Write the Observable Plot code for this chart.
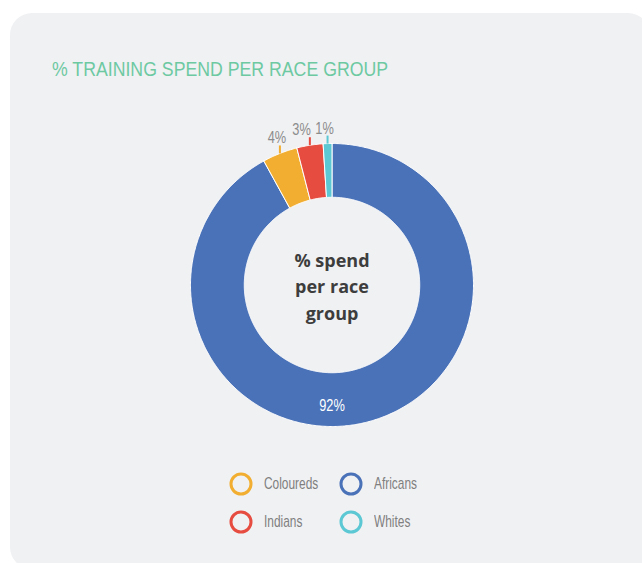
<!DOCTYPE html>
<html><head><meta charset="utf-8">
<script src="https://cdn.jsdelivr.net/npm/d3@7"></script>
<script src="https://cdn.jsdelivr.net/npm/@observablehq/plot@0.6"></script>
<style>
html,body{margin:0;padding:0;background:#fff;width:642px;height:563px;overflow:hidden;}
#card{position:absolute;left:10px;top:13px;width:640px;height:556px;background:#f0f1f3;border-radius:22px;}
#title{position:absolute;left:52px;top:57px;font-family:"Liberation Sans",sans-serif;font-size:20px;color:#6dc9a2;white-space:nowrap;line-height:24px;transform:scaleX(0.885);transform-origin:0 0;}
#chart{position:absolute;left:0;top:110px;}
#legend{position:absolute;left:229px;top:472px;display:grid;grid-template-columns:110px 110px;row-gap:14px;font-family:"Liberation Sans",sans-serif;font-size:17px;color:#7f7f7f;}
.item{display:flex;align-items:center;height:24px;}
.item svg{margin-right:11px;flex:none;}
.item span{display:inline-block;transform:scaleX(0.70);transform-origin:0 50%;white-space:nowrap;}
</style></head>
<body>
<div id="card"></div>
<div id="title"></div>
<div id="chart"></div>
<div id="legend"></div>
<script>
const title = "% TRAINING SPEND PER RACE GROUP";
const groups = ["Africans", "Coloureds", "Indians", "Whites"];
const shares = [92, 4, 3, 1];
const shareLabels = ["92%", "4%", "3%", "1%"];
const colors = ["#4a72b8", "#f1ae31", "#e74c40", "#5bc8d3"];
const legendOrder = ["Coloureds", "Africans", "Indians", "Whites"];
const centerLabel = ["% spend", "per race", "group"];

document.getElementById("title").textContent = title;

const rows = groups.map((g, i) => ({group: g, share: shares[i], label: shareLabels[i]}));
const arcs = d3.pie().sort(null).value(d => d.share)(rows);

const inner = 0.62;
const poly = [];
for (const a of arcs) {
  const n = Math.max(2, Math.ceil((a.endAngle - a.startAngle) / (Math.PI / 360)));
  const pts = [];
  for (let k = 0; k <= n; k++) {
    const t = a.startAngle + (a.endAngle - a.startAngle) * k / n;
    pts.push({group: a.data.group, x: Math.sin(t), y: Math.cos(t)});
  }
  for (let k = n; k >= 0; k--) {
    const t = a.startAngle + (a.endAngle - a.startAngle) * k / n;
    pts.push({group: a.data.group, x: inner * Math.sin(t), y: inner * Math.cos(t)});
  }
  pts.push({...pts[0]});
  poly.push(...pts);
}

const R = 141.5, cx = 331.5, cy = 174.5;
const maxShare = d3.max(shares);
const small = arcs.filter(a => a.data.share !== maxShare).map(a => {
  const m = (a.startAngle + a.endAngle) / 2;
  const x = Math.sin(m), y = Math.cos(m);
  return {group: a.data.group, label: a.data.label, x, y, y2: y + 8 / R, lx: x - 3 / R};
});
// simple collision avoidance for the outside labels: push left neighbours away
small.sort((a, b) => a.lx - b.lx);
const minSep = 23 / R;
for (let i = small.length - 2; i >= 0; i--) {
  if (small[i].lx > small[i + 1].lx - minSep) small[i].lx = small[i + 1].lx - minSep;
}
const big = arcs.filter(a => a.data.share === maxShare).map(a => {
  const t = (Math.PI >= a.startAngle && Math.PI <= a.endAngle) ? Math.PI : (a.startAngle + a.endAngle) / 2;
  const r = 0.855;
  return {label: a.data.label, x: r * Math.sin(t), y: r * Math.cos(t)};
});

const chart = Plot.plot({
  width: 642, height: 330, margin: 0,
  x: {domain: [-1, 1], range: [cx - R, cx + R], axis: null},
  y: {domain: [-1, 1], range: [cy + R, cy - R], axis: null},
  color: {domain: groups, range: colors},
  style: {background: "transparent", overflow: "visible", fontFamily: "Liberation Sans"},
  marks: [
    Plot.line(poly, {x: "x", y: "y", z: "group", fill: "group", stroke: "#ffffff", strokeWidth: 1, strokeLinejoin: "round", curve: "linear"}),
    Plot.link(small, {x1: "x", y1: "y", x2: "x", y2: "y2", stroke: "group", strokeWidth: 2}),
    Plot.text(small, {x: "lx", y: "y2", text: "label", lineAnchor: "bottom", dy: -2, fill: "#8c8c8c", fontSize: 16, fontFamily: "Liberation Sans", className: "condensed"}),
    Plot.text(big, {x: "x", y: "y", text: "label", fill: "#ffffff", fontSize: 16, fontFamily: "Liberation Sans", className: "condensed"}),
    Plot.text([{x: 0, y: 0, text: centerLabel.join("\n")}], {x: "x", y: "y", text: "text", dy: 0, lineHeight: 1.47, fontSize: 18, fontWeight: "bold", fill: "#3d3d3d", fontFamily: "Open Sans"})
  ]
});
// condense the small condensed-style labels horizontally around their anchor
d3.select(chart).selectAll("g.condensed text, .condensed text").each(function() {
  const t = this.getAttribute("transform") || "";
  this.setAttribute("transform", t + " scale(0.8,1)");
});
document.getElementById("chart").appendChild(chart);

const colorOf = new Map(groups.map((g, i) => [g, colors[i]]));
const legend = d3.select("#legend");
for (const g of legendOrder) {
  const item = legend.append("div").attr("class", "item");
  const svg = item.append("svg").attr("width", 24).attr("height", 24);
  svg.append("circle").attr("cx", 12).attr("cy", 12).attr("r", 10).attr("fill", "none").attr("stroke", colorOf.get(g)).attr("stroke-width", 3);
  item.append("span").text(g);
}
</script>
</body></html>
